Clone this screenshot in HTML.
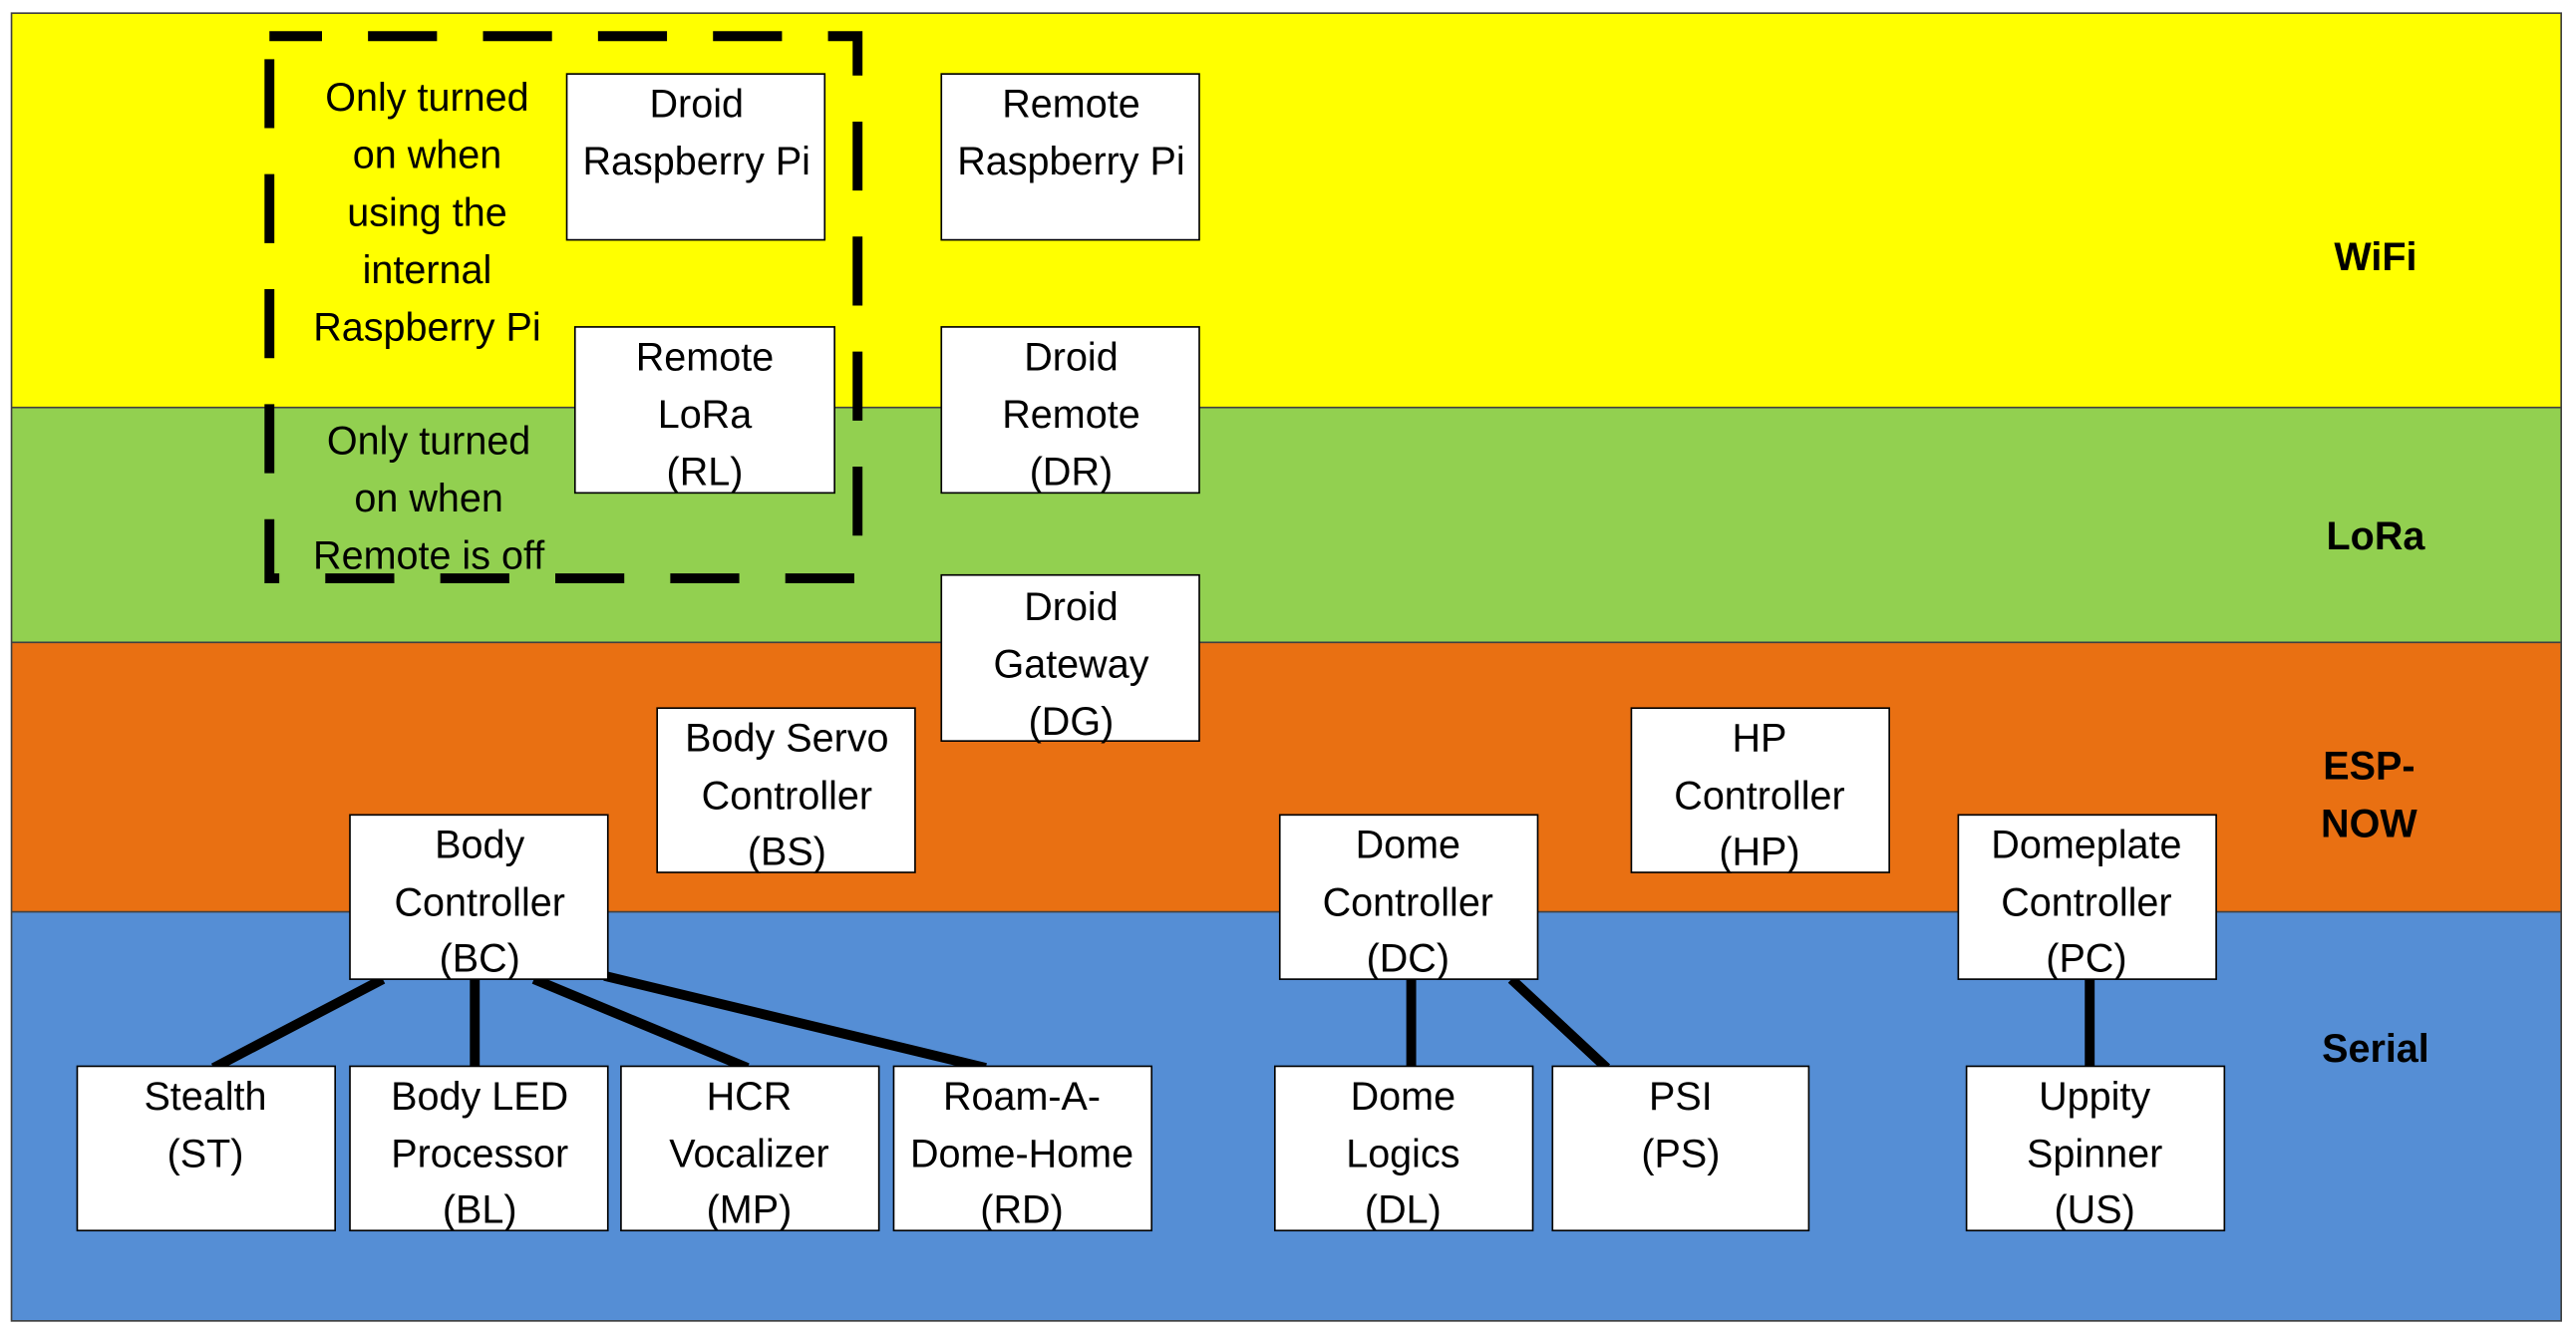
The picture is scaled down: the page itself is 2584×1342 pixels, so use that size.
<!DOCTYPE html>
<html><head><meta charset="utf-8"><style>
html,body{margin:0;padding:0;background:#fff;}
svg{display:block;}
text{font-family:"Liberation Sans",sans-serif;}
.b{fill:#fff;stroke:#000;stroke-width:1;}
.t{font-size:24px;text-anchor:middle;dominant-baseline:middle;fill:#000;}
.L{font-size:24px;font-weight:bold;text-anchor:middle;dominant-baseline:middle;}
.c{stroke:#000;stroke-width:6;}
</style></head><body>
<svg width="2584" height="1342" viewBox="0 0 1568 814.4" preserveAspectRatio="none">
<rect x="0" y="0" width="1568" height="815" fill="#fff"/>
<rect x="7" y="8" width="1552" height="240" fill="#ffff00"/>
<rect x="7" y="248" width="1552" height="143" fill="#92d050"/>
<rect x="7" y="391" width="1552" height="164" fill="#e97012"/>
<rect x="7" y="555" width="1552" height="249" fill="#558ed5"/>
<g stroke="#404040" stroke-width="1" fill="none">
<rect x="7" y="8" width="1552" height="796"/>
<line x1="7" y1="248" x2="1559" y2="248"/><line x1="7" y1="391" x2="1559" y2="391"/><line x1="7" y1="555" x2="1559" y2="555"/>
</g>
<text class="L" x="1446" y="158">WiFi</text>
<text class="L" x="1446" y="328">LoRa</text>
<text class="L" x="1442" y="468">ESP-</text>
<text class="L" x="1442" y="503">NOW</text>
<text class="L" x="1446" y="640">Serial</text>

<g class="c">
<line x1="233" y1="596" x2="130" y2="650"/>
<line x1="289" y1="596" x2="289" y2="650"/>
<line x1="325" y1="596" x2="455" y2="650"/>
<line x1="368" y1="594" x2="600" y2="650"/>
<line x1="859" y1="596" x2="859" y2="650"/>
<line x1="920" y1="596" x2="978" y2="650"/>
<line x1="1272" y1="596" x2="1272" y2="650"/>
</g>

<g class="b">
<rect x="345" y="45" width="157" height="101"/>
<rect x="573" y="45" width="157" height="101"/>
<rect x="350" y="199" width="158" height="101"/>
<rect x="573" y="199" width="157" height="101"/>
<rect x="573" y="350" width="157" height="101"/>
<rect x="400" y="431" width="157" height="100"/>
<rect x="993" y="431" width="157" height="100"/>
<rect x="213" y="496" width="157" height="100"/>
<rect x="779" y="496" width="157" height="100"/>
<rect x="1192" y="496" width="157" height="100"/>
<rect x="47" y="649" width="157" height="100"/>
<rect x="213" y="649" width="157" height="100"/>
<rect x="378" y="649" width="157" height="100"/>
<rect x="544" y="649" width="157" height="100"/>
<rect x="776" y="649" width="157" height="100"/>
<rect x="945" y="649" width="156" height="100"/>
<rect x="1197" y="649" width="157" height="100"/>
</g>

<g>
<text class="t" x="424" y="65">Droid</text><text class="t" x="424" y="100">Raspberry Pi</text>
<text class="t" x="652" y="65">Remote</text><text class="t" x="652" y="100">Raspberry Pi</text>
<text class="t" x="429" y="219">Remote</text><text class="t" x="429" y="254">LoRa</text><text class="t" x="429" y="289">(RL)</text>
<text class="t" x="652" y="219">Droid</text><text class="t" x="652" y="254">Remote</text><text class="t" x="652" y="289">(DR)</text>
<text class="t" x="652" y="371">Droid</text><text class="t" x="652" y="406">Gateway</text><text class="t" x="652" y="441">(DG)</text>
<text class="t" x="479" y="451">Body Servo</text><text class="t" x="479" y="486">Controller</text><text class="t" x="479" y="520">(BS)</text>
<text class="t" x="1071" y="451">HP</text><text class="t" x="1071" y="486">Controller</text><text class="t" x="1071" y="520">(HP)</text>
<text class="t" x="292" y="516">Body</text><text class="t" x="292" y="551">Controller</text><text class="t" x="292" y="585">(BC)</text>
<text class="t" x="857" y="516">Dome</text><text class="t" x="857" y="551">Controller</text><text class="t" x="857" y="585">(DC)</text>
<text class="t" x="1270" y="516">Domeplate</text><text class="t" x="1270" y="551">Controller</text><text class="t" x="1270" y="585">(PC)</text>
<text class="t" x="125" y="669">Stealth</text><text class="t" x="125" y="704">(ST)</text>
<text class="t" x="292" y="669">Body LED</text><text class="t" x="292" y="704">Processor</text><text class="t" x="292" y="738">(BL)</text>
<text class="t" x="456" y="669">HCR</text><text class="t" x="456" y="704">Vocalizer</text><text class="t" x="456" y="738">(MP)</text>
<text class="t" x="622" y="669">Roam-A-</text><text class="t" x="622" y="704">Dome-Home</text><text class="t" x="622" y="738">(RD)</text>
<text class="t" x="854" y="669">Dome</text><text class="t" x="854" y="704">Logics</text><text class="t" x="854" y="738">(DL)</text>
<text class="t" x="1023" y="669">PSI</text><text class="t" x="1023" y="704">(PS)</text>
<text class="t" x="1275" y="669">Uppity</text><text class="t" x="1275" y="704">Spinner</text><text class="t" x="1275" y="738">(US)</text>
<text class="t" x="260" y="61">Only turned</text><text class="t" x="260" y="96">on when</text><text class="t" x="260" y="131">using the</text><text class="t" x="260" y="166">internal</text><text class="t" x="260" y="201">Raspberry Pi</text>
<text class="t" x="261" y="270">Only turned</text><text class="t" x="261" y="305">on when</text><text class="t" x="261" y="340">Remote is off</text>
</g>

<rect x="164" y="22" width="358" height="330" fill="none" stroke="#000" stroke-width="6" stroke-dasharray="42,28" stroke-dashoffset="10"/>
</svg>
</body></html>
